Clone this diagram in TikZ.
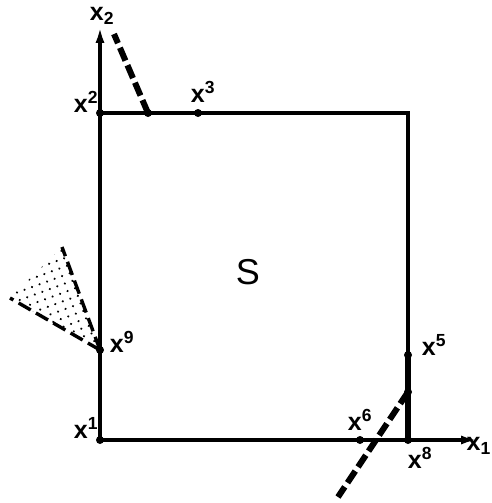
\documentclass[tikz,border=0pt]{standalone}
\usepackage{fontspec}
\setmainfont{Liberation Sans}
\usetikzlibrary{arrows.meta,patterns.meta,positioning}

\begin{document}
\begin{tikzpicture}[x=1pt,y=-1pt,
    edge/.style={line width=3.4pt},
    axis/.style={line width=3.4pt,-{Latex[length=17pt,width=9pt]}},
    ray/.style={line width=6pt,dash pattern=on 14pt off 5pt},
    cone/.style={line width=3.4pt,dash pattern=on 14pt off 6pt},
    pt/.style={circle,fill,inner sep=0pt,minimum size=8pt},
    lbl/.style={font=\fontsize{25}{25}\selectfont\bfseries,inner sep=1pt}]
    % Frame
    \useasboundingbox (0,0) rectangle (492,503);

    % Corner points and marked points
    \node[pt] (p1) at (100,440) {};
    \node[pt] (p2) at (100,113) {};
    \node[pt] (p3) at (198,113) {};
    \coordinate (p4) at (408,113);
    \node[pt] (p5) at (408,355) {};
    \node[pt] (p6) at (360,440) {};
    \node[pt] (p8) at (408,440) {};
    \node[pt] (p9) at (100,350) {};

    % Axes
    \coordinate (ax2) at (100,26);
    \coordinate (ax1) at (478,440);
    \draw[axis] (p1.center) -- (ax2);
    \draw[axis] (p1.center) -- (ax1);

    % The set S
    \draw[edge] (p2.center) -- (p4) -- (p8.center);
    \draw[line width=5.5pt] (p5.center) -- (p8.center);
    \node[font=\fontsize{36}{36}\selectfont] (S) at (248,272) {S};

    % Cone at x^9
    \coordinate (c1) at (62,247);
    \coordinate (c2) at (10,298);
    \fill[pattern={Dots[distance=8pt,radius=1.2pt,angle=20]}] (p9.center) -- (c1) -- (c2) -- cycle;
    \draw[cone] (p9.center) -- (c1);
    \draw[cone] (p9.center) -- (c2);

    % Ray on the top edge
    \node[pt] (q1) at (148,113) {};
    \coordinate (r1) at (114,34);
    \draw[ray] (q1.center) -- (r1);

    % Ray at the bottom right
    \node[pt] (q2) at (408,392) {};
    \coordinate (r2) at (338,497);
    \draw[ray] (q2.center) -- (r2);

    % Labels
    \node[lbl] (l2a) at (102,16) {x\textsubscript{2}};
    \node[lbl,anchor=east] (l1a) at (492,446) {x\textsubscript{1}};
    \node[lbl] (lp1) at (86,428) {x\textsuperscript{1}};
    \node[lbl] (lp2) at (86,102) {x\textsuperscript{2}};
    \node[lbl] (lp3) at (203,92) {x\textsuperscript{3}};
    \node[lbl] (lp5) at (434,345) {x\textsuperscript{5}};
    \node[lbl] (lp6) at (360,420) {x\textsuperscript{6}};
    \node[lbl] (lp8) at (420,458) {x\textsuperscript{8}};
    \node[lbl] (lp9) at (122,342) {x\textsuperscript{9}};
\end{tikzpicture}
\end{document}
